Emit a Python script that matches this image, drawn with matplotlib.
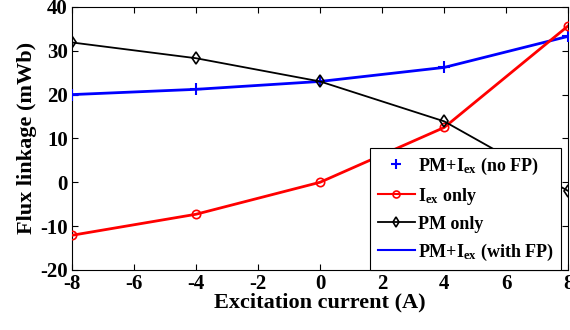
import numpy as np
import matplotlib
matplotlib.use('Agg')
import matplotlib.pyplot as plt

plt.rcParams['font.family'] = 'Liberation Serif'
plt.rcParams['font.weight'] = 'bold'
plt.rcParams['axes.unicode_minus'] = False
plt.rcParams['mathtext.fontset'] = 'custom'
plt.rcParams['mathtext.rm'] = 'Liberation Serif:bold'
plt.rcParams['mathtext.it'] = 'Liberation Serif:bold'
plt.rcParams['mathtext.bf'] = 'Liberation Serif:bold'

# data
current = [-8, -4, 0, 4, 8]
pm_iex = [20.0, 21.2, 23.0, 26.2, 33.3]
iex_only = [-12.1, -7.3, 0.0, 12.5, 35.7]
pm_only = [31.9, 28.3, 23.0, 13.9, -2.0]

fig = plt.figure(figsize=(5.7, 3.3), dpi=100)
ax = fig.add_axes([0.126, 0.182, 0.871, 0.797])

ax.plot(current, pm_iex, color='blue', lw=2, zorder=2)
ax.plot(current, pm_iex, ls='none', marker='+', ms=8, mew=1.5, color='blue', zorder=3)
ax.plot(current, iex_only, color='red', lw=2, marker='o', ms=6, mfc='none', mew=1.2, zorder=3)
ax.plot(current, pm_only, color='black', lw=1.3, marker='d', ms=6, mfc='none', mew=1.2, zorder=4)

h_nofp, = ax.plot([], [], ls='none', marker='+', ms=7, mew=1.5, color='blue')
h_iex, = ax.plot([], [], color='red', lw=1.5, marker='o', ms=5, mfc='none', mew=1.2)
h_pm, = ax.plot([], [], color='black', lw=1.3, marker='d', ms=5, mfc='none', mew=1.2)
h_fp, = ax.plot([], [], color='blue', lw=1.5)

leg = ax.legend([h_nofp, h_iex, h_pm, h_fp],
                [r'PM+I$_{\mathrm{ex}}$ (no FP)', r'I$_{\mathrm{ex}}$ only', 'PM only',
                 r'PM+I$_{\mathrm{ex}}$ (with FP)'],
                loc='lower right', bbox_to_anchor=(0.986, 0.0), borderaxespad=0,
                fontsize=13, handlelength=2.1, handletextpad=0.15, labelspacing=0.5,
                fancybox=False, framealpha=1, edgecolor='black', borderpad=0.4)
leg.get_frame().set_linewidth(0.8)

ax.set_xlim(-8, 8)
ax.set_ylim(-20, 40)
ax.set_xticks(np.arange(-8, 9, 2))
ax.set_yticks(np.arange(-20, 41, 10))
ax.tick_params(direction='in', top=True, right=True, labelsize=15, length=4, pad=3)
ax.set_xlabel('Excitation current (A)', fontsize=16, fontweight='bold', labelpad=-1)
ax.set_ylabel('Flux linkage (mWb)', fontsize=16, fontweight='bold', labelpad=2)

fig.savefig('out.png', dpi=100)
